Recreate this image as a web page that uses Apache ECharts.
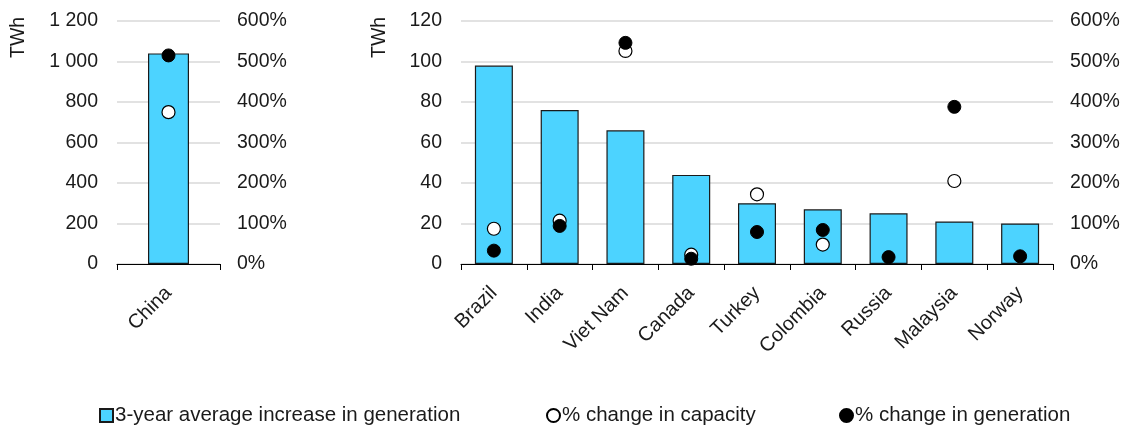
<!DOCTYPE html>
<html>
<head>
<meta charset="utf-8">
<script src="https://cdn.jsdelivr.net/npm/echarts@6/dist/echarts.min.js"></script>
<style>
html,body{margin:0;padding:0;background:#fff;}
#chart{width:1127px;height:425px;}
</style>
</head>
<body>
<div id="chart"></div>
<script>
// ---- Data ----
const leftCategories = ['China'];
const leftGenIncrease = [1040];          // TWh
const leftCapacityChange = [375];        // %
const leftGenerationChange = [515];      // %

const rightCategories = ['Brazil', 'India', 'Viet Nam', 'Canada', 'Turkey', 'Colombia', 'Russia', 'Malaysia', 'Norway'];
const rightGenIncrease = [98, 76, 66, 44, 30, 27, 25, 21, 20];              // TWh
const rightCapacityChange = [87, 107, 526, 23, 172, 48, null, 205, null];   // %
const rightGenerationChange = [33, 94, 546, 13, 79, 84, 17, 388, 19];       // %

const leftTwhTicks = { min: 0, max: 1200, interval: 200 };
const rightTwhTicks = { min: 0, max: 120, interval: 20 };
const pctTicks = { min: 0, max: 600, interval: 100 };

const seriesNames = ['3-year average increase in generation', '% change in capacity', '% change in generation'];
const unitName = 'TWh';

// ---- Styles ----
const FONT = 'Liberation Sans, Arial, sans-serif';
const FS = 19.5;
const FS_LAB = 20;
const FS_LEG = 20.5;
const TXT = '#1a1a1a';
const BAR = '#4cd3ff';

function fmtThousands(v) {
  return String(v).replace(/\B(?=(\d{3})+(?!\d))/g, ' ');
}

const chart = echarts.init(document.getElementById('chart'), null, { renderer: 'canvas' });

function xAxis(idx, cats) {
  return {
    type: 'category', gridIndex: idx, data: cats, boundaryGap: true,
    axisLine: { show: true, lineStyle: { color: '#000', width: 1 } },
    axisTick: { show: true, length: 6, lineStyle: { color: '#000', width: 1 } },
    axisLabel: { rotate: 45, margin: 26, color: TXT, fontFamily: FONT, fontSize: FS_LAB, interval: 0 }
  };
}
function yAxisVal(idx, ticks, fmt) {
  return {
    type: 'value', gridIndex: idx, min: ticks.min, max: ticks.max, interval: ticks.interval,
    axisLine: { show: false }, axisTick: { show: false },
    splitLine: { show: true, lineStyle: { color: '#d9d9d9', width: 1.5 } },
    axisLabel: { margin: 19, color: TXT, fontFamily: FONT, fontSize: FS, formatter: fmt }
  };
}
function yAxisPct(idx) {
  return {
    type: 'value', gridIndex: idx, position: 'right', min: pctTicks.min, max: pctTicks.max, interval: pctTicks.interval,
    axisLine: { show: false }, axisTick: { show: false }, splitLine: { show: false },
    axisLabel: { margin: 17, color: TXT, fontFamily: FONT, fontSize: FS, formatter: '{value}%' }
  };
}

function legendAt(name, left, icon) {
  return {
    data: [{ name: name, icon: icon }],
    left: left, top: 405, padding: 0, itemWidth: 13, itemHeight: 13, itemGap: 0,
    textStyle: { fontFamily: FONT, fontSize: FS_LEG, color: TXT, padding: [0, 0, 0, -3] },
    selectedMode: false
  };
}

const option = {
  backgroundColor: '#fff',
  animation: false,
  grid: [
    { left: 117, top: 21, width: 103, height: 243 },
    { left: 461, top: 21, width: 592, height: 243 }
  ],
  xAxis: [xAxis(0, leftCategories), xAxis(1, rightCategories)],
  yAxis: [
    yAxisVal(0, leftTwhTicks, fmtThousands),
    yAxisPct(0),
    yAxisVal(1, rightTwhTicks, fmtThousands),
    yAxisPct(1)
  ],
  legend: [
    legendAt(seriesNames[0], 99, 'rect'),
    legendAt(seriesNames[1], 546, 'circle'),
    legendAt(seriesNames[2], 839, 'circle')
  ],
  graphic: [
    { type: 'text', x: 29, y: 58, rotation: Math.PI / 2,
      style: { text: unitName, font: FS + 'px ' + FONT, fill: TXT, textAlign: 'left', textVerticalAlign: 'bottom' } },
    { type: 'text', x: 390, y: 58, rotation: Math.PI / 2,
      style: { text: unitName, font: FS + 'px ' + FONT, fill: TXT, textAlign: 'left', textVerticalAlign: 'bottom' } }
  ],
  series: [
    { name: seriesNames[0], type: 'bar', xAxisIndex: 0, yAxisIndex: 0, data: leftGenIncrease, barWidth: 41,
      itemStyle: { color: BAR, borderColor: '#1a1a1a', borderWidth: 1.2 } },
    { name: seriesNames[1], type: 'scatter', xAxisIndex: 0, yAxisIndex: 1, data: leftCapacityChange, symbolSize: 13,
      itemStyle: { color: '#fff', borderColor: '#000', borderWidth: 1.2, opacity: 1 } },
    { name: seriesNames[2], type: 'scatter', xAxisIndex: 0, yAxisIndex: 1, data: leftGenerationChange, symbolSize: 13,
      itemStyle: { color: '#000', borderColor: '#000', borderWidth: 1, opacity: 1 } },

    { name: seriesNames[0], type: 'bar', xAxisIndex: 1, yAxisIndex: 2, data: rightGenIncrease, barWidth: 38,
      itemStyle: { color: BAR, borderColor: '#1a1a1a', borderWidth: 1.2 } },
    { name: seriesNames[1], type: 'scatter', xAxisIndex: 1, yAxisIndex: 3, data: rightCapacityChange, symbolSize: 13,
      itemStyle: { color: '#fff', borderColor: '#000', borderWidth: 1.2, opacity: 1 } },
    { name: seriesNames[2], type: 'scatter', xAxisIndex: 1, yAxisIndex: 3, data: rightGenerationChange, symbolSize: 13,
      itemStyle: { color: '#000', borderColor: '#000', borderWidth: 1, opacity: 1 } }
  ]
};
chart.setOption(option);
</script>
</body>
</html>
